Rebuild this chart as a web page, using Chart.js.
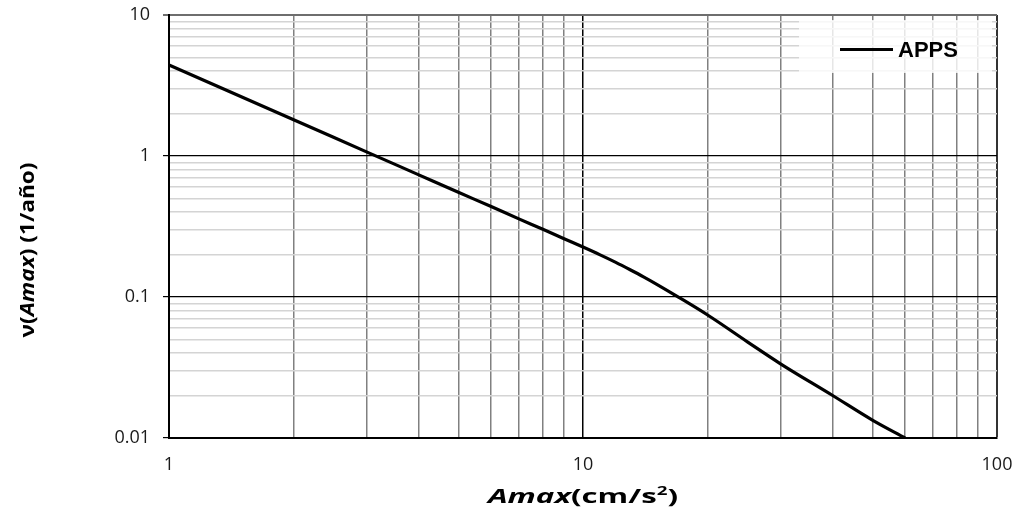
<!DOCTYPE html>
<html>
<head>
<meta charset="utf-8">
<script src="https://cdn.jsdelivr.net/npm/chart.js@4/dist/chart.umd.min.js"></script>
<style>
  html, body { margin: 0; padding: 0; background: #ffffff; }
  canvas { display: block; }
</style>
</head>
<body>
<canvas id="chart" width="1018" height="514"></canvas>
<script>
// Peak ground acceleration (cm/s²) and annual exceedance rate (1/año)
const amax = [1, 2, 3, 4, 5, 6, 7, 8, 9, 10, 11, 12, 13, 14, 15, 17, 20, 25, 30, 40, 50, 60];
const tasa = [4.42, 1.81, 1.07, 0.738, 0.553, 0.438, 0.358, 0.302, 0.259, 0.226,
              0.199, 0.176, 0.156, 0.139, 0.124, 0.0998, 0.0745, 0.0479, 0.0336,
              0.0201, 0.0134, 0.01];

// Grid positions on both log axes and the values that carry a label
const xGridValues = [1, 2, 3, 4, 5, 6, 7, 8, 9, 10, 20, 30, 40, 50, 60, 70, 80, 90, 100];
const yGridValues = [0.01, 0.02, 0.03, 0.04, 0.05, 0.06, 0.07, 0.08, 0.09,
                     0.1, 0.2, 0.3, 0.4, 0.5, 0.6, 0.7, 0.8, 0.9,
                     1, 2, 3, 4, 5, 6, 7, 8, 9, 10];
const xTickLabels = ['1', '10', '100'];
const yTickLabels = ['0.01', '0.1', '1', '10'];

const seriesLabel = 'APPS';

const near = (a, b) => Math.abs(a - b) < 1e-9 * Math.max(1, Math.abs(b));
const labelFor = (labels) => (v) => {
  const hit = labels.find(l => near(parseFloat(l), v));
  return hit !== undefined ? hit : '';
};
const isDecade = (v) => near(Math.log10(v), Math.round(Math.log10(v)));

// Keep the plot frame fixed: no extra room reserved for overhanging tick labels
const noOverhang = (s) => {
  s.paddingLeft = 0; s.paddingRight = 0; s.paddingTop = 0; s.paddingBottom = 0;
};

const tickFont = { family: '"Open Sans", sans-serif', size: 18 };

// Axis titles with mixed italic/upright runs
const axisTitles = {
  id: 'axisTitles',
  afterDraw(chart) {
    const { ctx, chartArea } = chart;
    const measureRuns = (runs, size) => {
      const fam = '"Open Sans", sans-serif';
      const fontOf = (r) => (r.italic ? 'italic ' : '') + 'bold ' + (r.sup ? Math.round(size * 0.62) : size) + 'px ' + fam;
      let total = 0;
      runs.forEach(r => { ctx.font = fontOf(r); r.w = ctx.measureText(r.t).width; total += r.w; });
      return { total, fontOf };
    };

    // x title
    const xRuns = [{ t: 'Amax', italic: true }, { t: '(cm/s' }, { t: '2', sup: true }, { t: ')' }];
    ctx.save();
    const mx = measureRuns(xRuns, 20);
    const xTarget = 190;
    const cx = (chartArea.left + chartArea.right) / 2;
    ctx.translate(cx - xTarget / 2, 503);
    ctx.scale(xTarget / mx.total, 1);
    ctx.fillStyle = '#000';
    ctx.textBaseline = 'alphabetic';
    let px = 0;
    xRuns.forEach(r => {
      ctx.font = mx.fontOf(r);
      ctx.fillText(r.t, px, r.sup ? -8 : 0);
      px += r.w;
    });
    ctx.restore();

    // y title, rotated
    const yRuns = [{ t: 'ν(' }, { t: 'Amax', italic: true }, { t: ') (1/año)' }];
    ctx.save();
    const my = measureRuns(yRuns, 20);
    const yTarget = 175;
    ctx.translate(34, 250);
    ctx.rotate(-Math.PI / 2);
    ctx.translate(-yTarget / 2, 0);
    ctx.scale(yTarget / my.total, 1);
    ctx.fillStyle = '#000';
    let py = 0;
    yRuns.forEach(r => {
      ctx.font = my.fontOf(r);
      ctx.fillText(r.t, py, 0);
      py += r.w;
    });
    ctx.restore();
  }
};

// Legend box inside the plot, top right
const insetLegend = {
  id: 'insetLegend',
  afterDraw(chart) {
    const { ctx } = chart;
    const ds = chart.data.datasets[0];
    ctx.save();
    ctx.fillStyle = 'rgba(255,255,255,0.8)';
    ctx.fillRect(799, 20, 193, 53);
    ctx.strokeStyle = ds.borderColor;
    ctx.lineWidth = ds.borderWidth;
    ctx.beginPath();
    ctx.moveTo(840, 49.5);
    ctx.lineTo(893, 49.5);
    ctx.stroke();
    ctx.fillStyle = '#000';
    ctx.font = 'bold 22px "Liberation Sans", Arial, sans-serif';
    ctx.textBaseline = 'alphabetic';
    ctx.fillText(ds.label, 898, 57);
    ctx.restore();
  }
};

new Chart(document.getElementById('chart'), {
  type: 'line',
  data: {
    datasets: [{
      label: seriesLabel,
      data: amax.map((x, i) => ({ x, y: tasa[i] })),
      borderColor: '#000000',
      borderWidth: 3.2,
      pointRadius: 0,
      cubicInterpolationMode: 'monotone',
      fill: false
    }]
  },
  options: {
    responsive: false,
    animation: false,
    devicePixelRatio: 1,
    layout: { autoPadding: false, padding: { top: 15, right: 21, left: 0, bottom: 0 } },
    plugins: { legend: { display: false }, tooltip: { enabled: false } },
    scales: {
      x: {
        type: 'logarithmic',
        min: 1,
        max: 100,
        afterBuildTicks: (s) => { s.ticks = xGridValues.map(v => ({ value: v, major: isDecade(v) })); },
        afterFit: (s) => { s.height = 76; noOverhang(s); },
        ticks: {
          autoSkip: false,
          maxRotation: 0,
          font: tickFont,
          color: '#1a1a1a',
          padding: 16,
          callback: labelFor(xTickLabels)
        },
        grid: {
          drawTicks: false,
          color: (c) => {
            const v = c.tick ? c.tick.value : 0;
            if (near(v, 100)) return '#333333';
            if (isDecade(v)) return '#000000';
            return '#808080';
          },
          lineWidth: (c) => {
            const v = c.tick ? c.tick.value : 0;
            return near(v, 100) ? 2 : 1.5;
          }
        },
        border: { color: '#000000', width: 2 }
      },
      y: {
        type: 'logarithmic',
        min: 0.01,
        max: 10,
        afterBuildTicks: (s) => { s.ticks = yGridValues.map(v => ({ value: v, major: isDecade(v) })); },
        afterFit: (s) => { s.width = 169; noOverhang(s); },
        ticks: {
          autoSkip: false,
          font: tickFont,
          color: '#1a1a1a',
          padding: 13,
          callback: labelFor(yTickLabels)
        },
        grid: {
          tickLength: 6,
          color: (c) => {
            const v = c.tick ? c.tick.value : 0;
            if (near(v, 10)) return '#6e6e6e';
            if (isDecade(v)) return '#000000';
            return '#d4d4d4';
          },
          tickColor: (c) => {
            const v = c.tick ? c.tick.value : 0;
            if (near(v, 10)) return '#6e6e6e';
            return isDecade(v) ? '#000000' : 'rgba(0,0,0,0)';
          },
          lineWidth: (c) => {
            const v = c.tick ? c.tick.value : 0;
            if (near(v, 10)) return 2;
            return isDecade(v) ? 1.2 : 1.6;
          }
        },
        border: { color: '#000000', width: 2 }
      }
    }
  },
  plugins: [axisTitles, insetLegend]
});
</script>
</body>
</html>
